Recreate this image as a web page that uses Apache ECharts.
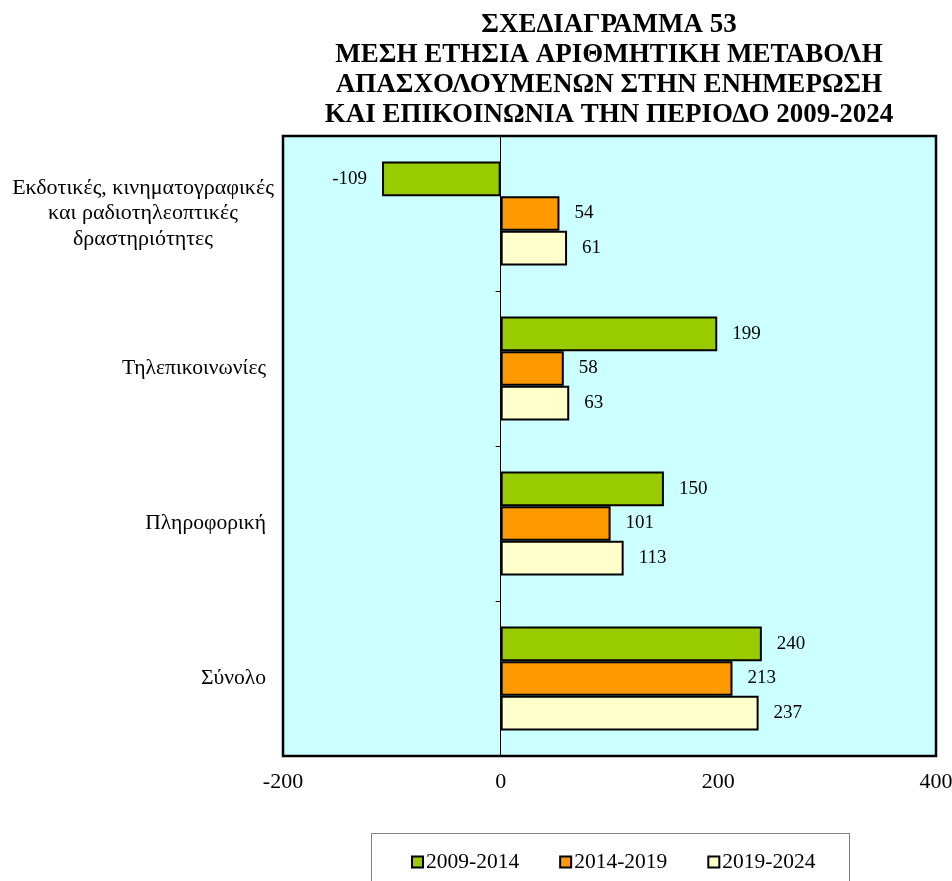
<!DOCTYPE html>
<html>
<head>
<meta charset="utf-8">
<script src="https://cdn.jsdelivr.net/npm/echarts@6/dist/echarts.min.js"></script>
<style>
  html, body { margin: 0; padding: 0; background: #fff; }
  #chart { width: 952px; height: 881px; }
</style>
</head>
<body>
<div id="chart"></div>
<script>
// Sectors (top to bottom)
const categories = [
  'Εκδοτικές, κινηματογραφικές\nκαι ραδιοτηλεοπτικές\nδραστηριότητες',
  'Τηλεπικοινωνίες',
  'Πληροφορική',
  'Σύνολο'
];
// Periods
const periods = ['2009-2014', '2014-2019', '2019-2024'];
// Average annual change in employed persons (thousands) per period
const values2009_2014 = [-109, 199, 150, 240];
const values2014_2019 = [54, 58, 101, 213];
const values2019_2024 = [61, 63, 113, 237];
const xTicks = [-200, 0, 200, 400];

const colors = ['#99CC00', '#FF9900', '#FFFFCC'];
const serif = 'Liberation Serif, Times New Roman, serif';

function toData(arr) {
  return arr.map(v => v < 0
    ? { value: v, label: { position: 'left' } }
    : { value: v });
}

const seriesValues = [values2009_2014, values2014_2019, values2019_2024];

const chart = echarts.init(document.getElementById('chart'), null, { renderer: 'canvas' });

const option = {
  animation: false,
  backgroundColor: '#ffffff',
  title: {
    text: 'ΣΧΕΔΙΑΓΡΑΜΜΑ 53\nΜΕΣΗ ΕΤΗΣΙΑ ΑΡΙΘΜΗΤΙΚΗ ΜΕΤΑΒΟΛΗ\nΑΠΑΣΧΟΛΟΥΜΕΝΩΝ ΣΤΗΝ ΕΝΗΜΕΡΩΣΗ\nΚΑΙ ΕΠΙΚΟΙΝΩΝΙΑ ΤΗΝ ΠΕΡΙΟΔΟ 2009-2024',
    left: 609,
    top: 10,
    textAlign: 'center',
    padding: 0,
    textStyle: {
      fontFamily: serif,
      fontWeight: 'bold',
      fontSize: 27,
      lineHeight: 30,
      color: '#000'
    }
  },
  graphic: [{
    type: 'rect',
    shape: { x: 371.5, y: 833.5, width: 478, height: 60 },
    style: { fill: '#fff', stroke: '#808080', lineWidth: 1 },
    z: 0
  }],
  legend: {
    data: periods,
    left: 411,
    top: 851,
    padding: 0,
    itemGap: 40,
    itemWidth: 11,
    itemHeight: 11,
    icon: 'rect',
    textStyle: { fontFamily: serif, fontSize: 21.5, color: '#000', padding: [0, 0, 0, -2] },
    z: 5
  },
  grid: {
    left: 283,
    top: 136,
    width: 653,
    height: 620,
    show: true,
    backgroundColor: '#CCFFFF',
    borderColor: '#000',
    borderWidth: 2.5,
    containLabel: false,
    outerBoundsMode: 'none'
  },
  xAxis: {
    type: 'value',
    min: xTicks[0],
    max: xTicks[xTicks.length - 1],
    interval: 200,
    axisLine: { show: false },
    axisTick: { show: false },
    splitLine: { show: false },
    axisLabel: {
      margin: 15,
      fontFamily: serif,
      fontSize: 22,
      color: '#000'
    }
  },
  yAxis: [{
    type: 'category',
    data: categories,
    inverse: true,
    axisLine: { show: false, onZero: false },
    axisTick: { show: false },
    axisLabel: {
      margin: 6,
      fontFamily: serif,
      fontSize: 22,
      color: '#000',
      formatter: function (val) {
        if (val.indexOf('\n') >= 0) {
          return val.split('\n').map(s => '{c|' + s + '}').join('\n');
        }
        return '{r|' + val + '}';
      },
      rich: {
        c: { width: 268, align: 'center', fontFamily: serif, fontSize: 22, lineHeight: 25.5, color: '#000' },
        r: { padding: [0, 11, 0, 0], fontFamily: serif, fontSize: 21.6, color: '#000' }
      }
    }
  }, {
    type: 'category',
    data: categories,
    inverse: true,
    position: 'left',
    axisLine: { show: true, onZero: true, lineStyle: { color: '#000', width: 1 } },
    axisTick: { show: true, length: 5, lineStyle: { color: '#000', width: 1 } },
    axisLabel: { show: false }
  }],
  series: seriesValues.map((vals, i) => ({
    name: periods[i],
    type: 'bar',
    yAxisIndex: 0,
    data: toData(vals),
    barGap: '0%',
    barCategoryGap: '33%',
    itemStyle: { color: colors[i], borderColor: '#000', borderWidth: 2 },
    label: {
      show: true,
      position: 'right',
      distance: 15,
      fontFamily: serif,
      fontSize: 19,
      color: '#000'
    },
    z: 3
  }))
};

chart.setOption(option);
</script>
</body>
</html>
